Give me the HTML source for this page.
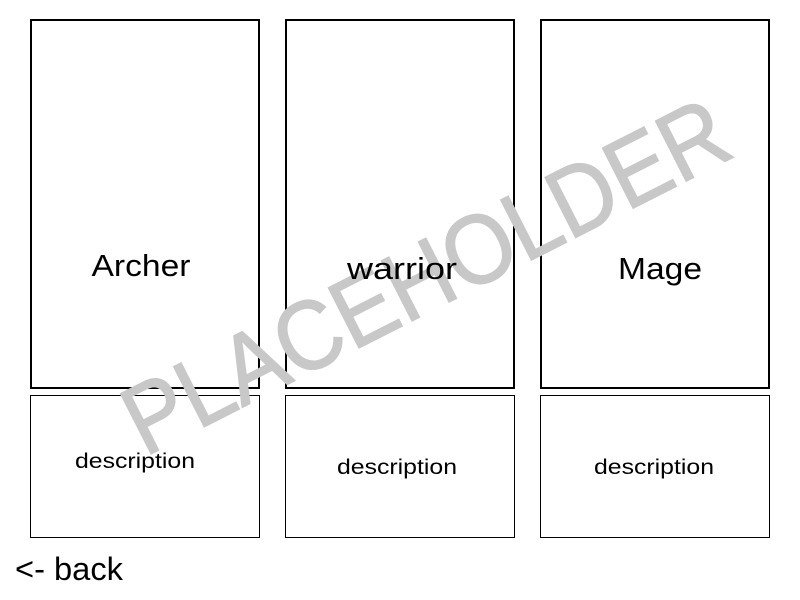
<!DOCTYPE html>
<html><head><style>
html,body{margin:0;padding:0;background:#fff;width:800px;height:600px;overflow:hidden}
</style></head><body>
<svg width="800" height="600" xmlns="http://www.w3.org/2000/svg" style="position:absolute;left:0;top:0">
<g fill="none" stroke="#000">
<rect x="31" y="20" width="228" height="368" stroke-width="2"/>
<rect x="286" y="20" width="228" height="368" stroke-width="2"/>
<rect x="541" y="20" width="228" height="368" stroke-width="2"/>
<rect x="30.5" y="395.5" width="229" height="142" stroke-width="1"/>
<rect x="285.5" y="395.5" width="229" height="142" stroke-width="1"/>
<rect x="540.5" y="395.5" width="229" height="142" stroke-width="1"/>
</g>
<text x="425" y="310" text-anchor="middle" font-family="Liberation Sans, sans-serif" font-size="98" fill="#c8c8c8" stroke="#c8c8c8" stroke-width="1.5" textLength="665" lengthAdjust="spacingAndGlyphs" transform="rotate(-27 425 275)">PLACEHOLDER</text>
<g font-family="Liberation Sans, sans-serif" fill="#000" text-anchor="middle" lengthAdjust="spacingAndGlyphs">
<text x="141" y="276" font-size="31" textLength="99" lengthAdjust="spacingAndGlyphs">Archer</text>
<text x="402" y="279" font-size="31" textLength="110" lengthAdjust="spacingAndGlyphs">warrior</text>
<text x="660" y="279" font-size="31" textLength="84" lengthAdjust="spacingAndGlyphs">Mage</text>
<text x="135" y="468" font-size="21" textLength="120" lengthAdjust="spacingAndGlyphs">description</text>
<text x="397" y="474" font-size="21" textLength="120" lengthAdjust="spacingAndGlyphs">description</text>
<text x="654" y="474" font-size="21" textLength="120" lengthAdjust="spacingAndGlyphs">description</text>
<text x="15" y="580" font-size="32" text-anchor="start" textLength="108" lengthAdjust="spacingAndGlyphs">&lt;- back</text>
</g>
</svg>
</body></html>
